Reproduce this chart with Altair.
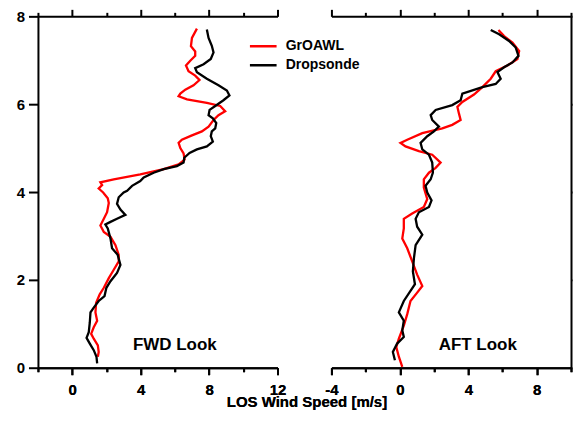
import altair as alt
import pandas as pd

FONT = "Liberation Sans"

series_names = ["GrOAWL", "Dropsonde"]
series_colors = ["#ff0000", "#000000"]

# ---- FWD look (left panel) ----
fwd_groawl_speed = [7.29, 7.0, 6.94, 7.19, 7.19, 6.9, 6.65, 6.8, 7.19, 7.44, 7.09, 6.61, 6.32, 6.22, 6.71,
                    7.87, 8.65, 8.94, 8.55, 8.26, 7.97, 7.58, 7.0, 6.41, 6.22, 6.32, 6.51, 6.57, 6.22, 5.35,
                    3.98, 2.43, 1.65, 1.75, 1.55, 1.81, 2.08, 2.14, 2.04, 1.85, 1.65, 1.85, 2.24, 2.53, 2.72,
                    2.72, 2.43, 2.14, 1.85, 1.61, 1.4, 1.36, 1.46, 1.26, 1.11, 1.26, 1.5, 1.55, 1.5]
fwd_groawl_alt = [7.72, 7.51, 7.32, 7.2, 7.1, 6.99, 6.88, 6.75, 6.65, 6.55, 6.43, 6.33, 6.24, 6.18, 6.11,
                  6.03, 5.96, 5.84, 5.75, 5.64, 5.49, 5.38, 5.29, 5.19, 5.12, 5.0, 4.88, 4.74, 4.63, 4.52,
                  4.4, 4.29, 4.22, 4.16, 4.08, 3.99, 3.86, 3.75, 3.54, 3.39, 3.24, 3.09, 2.98, 2.79, 2.57,
                  2.42, 2.23, 2.04, 1.82, 1.67, 1.48, 1.26, 1.07, 0.92, 0.77, 0.66, 0.51, 0.36, 0.25]

fwd_drop_speed = [7.87, 7.97, 8.16, 8.26, 8.1, 7.68, 7.19, 7.29, 7.87, 8.55, 9.04, 9.19, 8.84, 8.36, 8.03,
                  7.97, 8.22, 8.42, 8.36, 8.16, 8.1, 8.22, 7.87, 7.29, 6.86, 6.55, 6.51, 6.12, 5.35, 4.76,
                  4.18, 3.98, 3.5, 3.21, 3.01, 2.72, 2.62, 2.82, 3.11, 2.62, 2.24, 1.94, 2.08, 2.24, 2.33,
                  2.66, 2.82, 2.62, 2.24, 2.0, 1.89, 1.55, 1.26, 1.07, 1.03, 0.97, 0.84, 1.03, 1.26, 1.42, 1.46]
fwd_drop_alt = [7.7, 7.51, 7.33, 7.18, 7.03, 6.91, 6.82, 6.73, 6.58, 6.43, 6.31, 6.2, 6.09, 5.96, 5.87,
                5.75, 5.68, 5.57, 5.45, 5.38, 5.27, 5.15, 5.04, 4.97, 4.89, 4.78, 4.67, 4.59, 4.52, 4.44,
                4.33, 4.25, 4.14, 4.03, 3.99, 3.88, 3.73, 3.6, 3.48, 3.39, 3.32, 3.26, 3.17, 2.94, 2.72,
                2.57, 2.34, 2.16, 1.97, 1.82, 1.63, 1.52, 1.37, 1.26, 1.03, 0.81, 0.68, 0.55, 0.4, 0.25, 0.1]

# ---- AFT look (right panel) ----
aft_groawl_speed = [5.76, 6.09, 6.58, 6.97, 6.87, 6.28, 5.6, 5.31, 4.82, 4.33, 3.65, 3.36, 3.45, 3.55, 3.06,
                    2.48, 1.31, 0.43, 0.04, 0.33, 1.11, 1.89, 2.38, 2.09, 1.7, 1.4, 1.4, 1.6, 1.4, 0.72,
                    0.23, 0.23, 0.14, 0.43, 0.72, 1.01, 1.31, 1.01, 0.62, 0.43, 0.23, -0.06, -0.21, -0.06, 0.14]
aft_groawl_alt = [7.69, 7.55, 7.4, 7.21, 7.03, 6.88, 6.75, 6.58, 6.39, 6.22, 6.05, 5.94, 5.79, 5.64, 5.53,
                  5.45, 5.34, 5.19, 5.12, 5.04, 4.93, 4.85, 4.67, 4.55, 4.44, 4.29, 4.1, 3.84, 3.66, 3.51,
                  3.39, 3.17, 2.94, 2.72, 2.42, 2.12, 1.86, 1.71, 1.52, 1.22, 0.96, 0.66, 0.47, 0.25, 0.02]

aft_drop_speed = [5.31, 5.8, 6.38, 6.77, 6.93, 6.58, 6.09, 5.7, 5.89, 5.6, 4.82, 3.65, 3.55, 3.06, 2.09,
                  1.8, 1.89, 2.28, 1.99, 1.6, 1.21, 1.31, 1.7, 1.89, 1.93, 1.8, 1.5, 1.6, 1.85, 1.7,
                  1.11, 0.92, 1.01, 1.31, 0.92, 0.82, 0.76, 0.88, 0.62, 0.23, -0.06, 0.23, 0.14, 0.23,
                  -0.16, -0.41, -0.29]
aft_drop_alt = [7.69, 7.59, 7.44, 7.29, 7.1, 6.95, 6.84, 6.73, 6.58, 6.46, 6.39, 6.24, 6.09, 5.98, 5.87,
                5.75, 5.64, 5.49, 5.38, 5.27, 5.12, 4.97, 4.85, 4.67, 4.44, 4.29, 4.14, 3.99, 3.81, 3.66,
                3.54, 3.39, 3.21, 3.03, 2.79, 2.49, 2.19, 1.9, 1.75, 1.52, 1.26, 1.07, 0.85, 0.7,
                0.55, 0.36, 0.17]

panel_labels = ["FWD Look", "AFT Look"]
panel_label_x = [6.0, 4.55]
panel_label_y = [0.41, 0.41]

fwd_domain = [-2, 12]
aft_domain = [-4, 10]
alt_domain = [0, 8]
alt_ticks = [0, 2, 4, 6, 8]
x_title = "LOS Wind Speed [m/s]"

PANEL_W = 240
PANEL_H = 352


def series_df(xs, ys, name):
    return pd.DataFrame({"speed": xs, "height": ys, "series": name, "idx": list(range(len(xs)))})


MAJOR = "datum.value % 4 === 0"


def x_axis(orient, dom, title=None):
    vals = list(range(dom[0], dom[1] + 1, 2))
    kw = dict(
        orient=orient, values=vals, grid=False,
        tickSize={"condition": {"test": MAJOR, "value": 7}, "value": 4},
        labels=(orient == "bottom"),
        labelExpr=f"{MAJOR} ? ('' + datum.value) : ''",
        labelPadding=8, labelFont=FONT, labelFontWeight="bold", labelFontSize=15,
        labelColor="black", domainColor="black", domainWidth=2, tickColor="black", tickWidth=2,
        labelFlush=False, labelOverlap=False,
    )
    if title:
        kw.update(title=title, titleX=269, titleY=39, titleAlign="center", titleBaseline="alphabetic",
                  titleFont=FONT, titleFontWeight="bold", titleFontSize=15, titleColor="black")
    else:
        kw.update(title=None)
    return alt.Axis(**kw)


def y_axis(orient):
    return alt.Axis(orient=orient, values=alt_ticks, grid=False, title=None,
                    labels=(orient == "left"), tickSize=9.5 if orient == "left" else 1,
                    labelPadding=4,
                    labelFont=FONT, labelFontWeight="bold", labelFontSize=15, labelColor="black",
                    domainColor="black", domainWidth=2, tickColor="black", tickWidth=2)


def panel(red_df, black_df, dom, label_i, y_orient, legend_on, title=None):
    xscale = alt.Scale(domain=dom, nice=False, zero=False)
    yscale = alt.Scale(domain=alt_domain, nice=False, zero=False)
    if legend_on:
        legend = alt.Legend(orient="none", legendX=210.7, legendY=21.9, title=None,
                            symbolType="stroke", symbolSize=713, symbolStrokeWidth=2.5,
                            labelFont=FONT, labelFontWeight="bold",
                            labelFontSize=14, labelColor="black", labelOffset=7.5,
                            padding=0, rowPadding=2, clipHeight=16.3)
    else:
        legend = None
    color = alt.Color("series:N", scale=alt.Scale(domain=series_names, range=series_colors), legend=legend)
    yenc = alt.Y("height:Q", scale=yscale, axis=y_axis(y_orient))

    def line(df):
        return alt.Chart(df).mark_line(strokeWidth=2.3, clip=True).encode(
            x=alt.X("speed:Q", scale=xscale, axis=x_axis("bottom", dom, title)),
            y=yenc,
            color=color,
            order=alt.Order("idx:Q"),
        )

    lbl = pd.DataFrame({"lx": [panel_label_x[label_i]], "height": [panel_label_y[label_i]],
                        "t": [panel_labels[label_i]]})
    text = alt.Chart(lbl).mark_text(font=FONT, fontWeight="bold", fontSize=17, align="center",
                                    baseline="alphabetic", color="black").encode(
        x=alt.X("lx:Q", scale=xscale, axis=x_axis("top", dom)),
        y=yenc,
        text="t:N",
    )
    return alt.layer(line(red_df), line(black_df), text).properties(width=PANEL_W, height=PANEL_H)


left = panel(series_df(fwd_groawl_speed, fwd_groawl_alt, "GrOAWL"),
             series_df(fwd_drop_speed, fwd_drop_alt, "Dropsonde"),
             fwd_domain, 0, "left", True, x_title)
right = panel(series_df(aft_groawl_speed, aft_groawl_alt, "GrOAWL"),
              series_df(aft_drop_speed, aft_drop_alt, "Dropsonde"),
              aft_domain, 1, "right", False)

chart = alt.hconcat(left, right, spacing=54, bounds="flush").resolve_scale(
    x="independent", y="independent", color="independent"
).resolve_legend(color="independent").properties(
    padding={"left": 8, "top": 0, "right": 0, "bottom": 0}
).configure_view(stroke=None)

chart.save("out.html", embed_options={"renderer": "svg", "actions": False})
